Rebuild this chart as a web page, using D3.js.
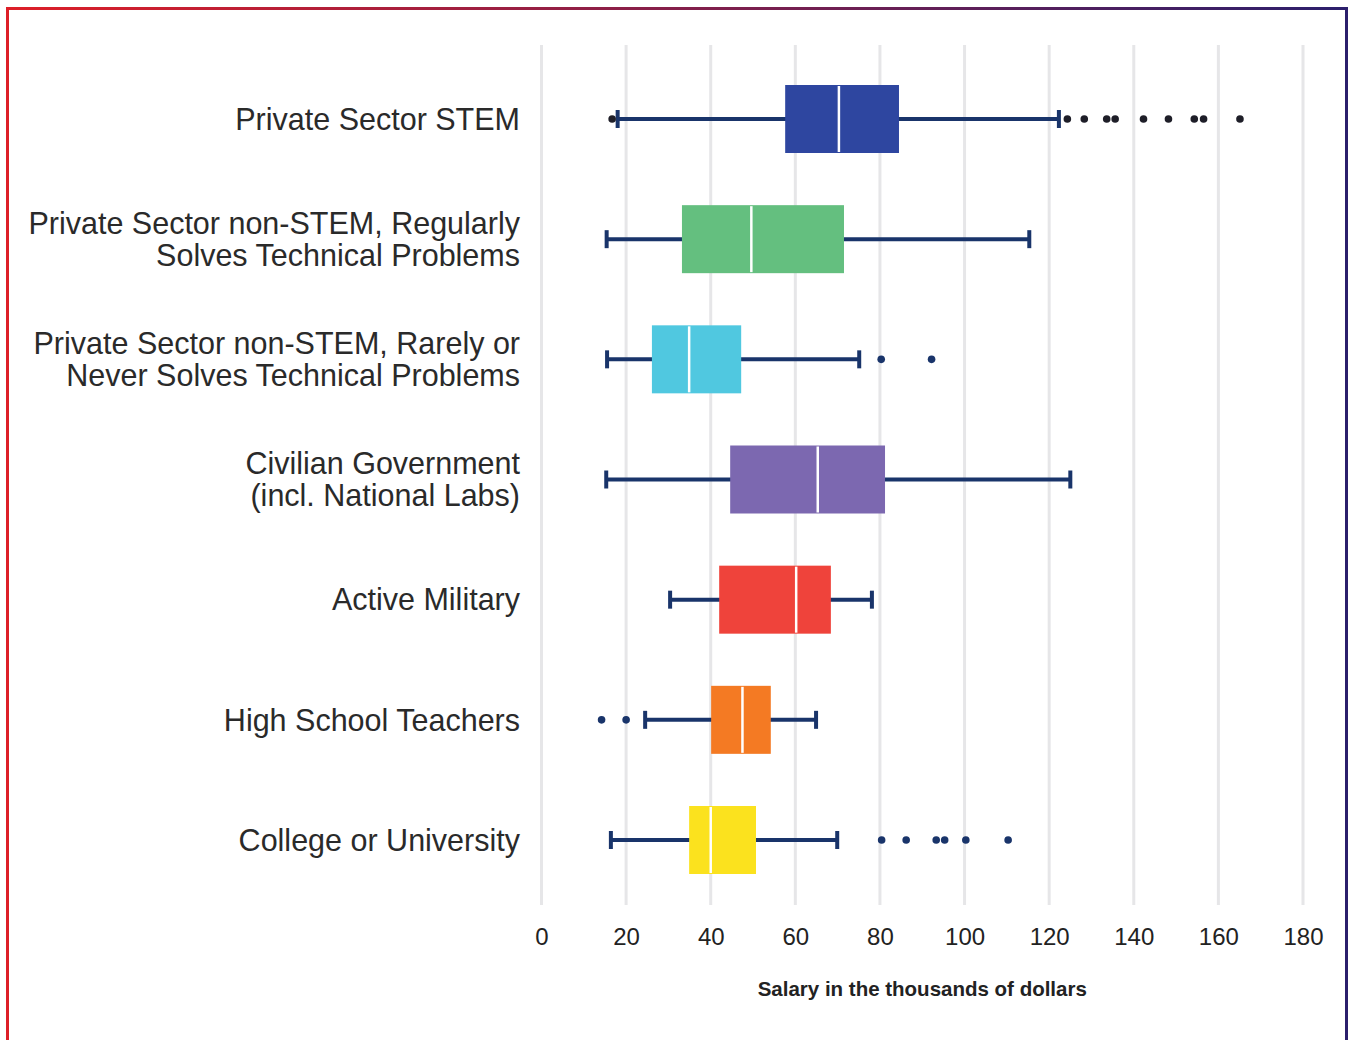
<!DOCTYPE html>
<html>
<head>
<meta charset="utf-8">
<script src="https://cdn.jsdelivr.net/npm/d3@7"></script>
<style>
  body { margin: 0; background: #fff; }
  svg { display: block; }
</style>
</head>
<body>
<div id="mainDiv"></div>
<script>
'use strict';

// categories, one line of label per array entry
var categories = [
    ['Private Sector STEM'],
    ['Private Sector non-STEM, Regularly', 'Solves Technical Problems'],
    ['Private Sector non-STEM, Rarely or', 'Never Solves Technical Problems'],
    ['Civilian Government', '(incl. National Labs)'],
    ['Active Military'],
    ['High School Teachers'],
    ['College or University']
];

var lowWhisker  = [18.0, 15.4, 15.5, 15.3, 30.4, 24.5, 16.4];
var q1          = [57.6, 33.2, 26.1, 44.6, 42.0, 40.1, 34.9];
var medians     = [70.3, 49.6, 34.9, 65.3, 60.2, 47.5, 40.0];
var q3          = [84.5, 71.5, 47.2, 81.2, 68.4, 54.2, 50.7];
var highWhisker = [122.3, 115.3, 75.1, 125.0, 78.1, 64.9, 69.9];
var outliers = [
    [16.7, 124.3, 128.3, 133.6, 135.6, 142.3, 148.2, 154.3, 156.5, 165.1],
    [],
    [80.3, 92.2],
    [],
    [],
    [14.2, 20.0],
    [80.4, 86.2, 93.3, 95.3, 100.3, 110.3]
];
var boxColors = ['#2e46a0', '#64bf7f', '#50c8e0', '#7c68b0', '#ef433b', '#f47a23', '#fbe21e'];
var xTicks = [0, 20, 40, 60, 80, 100, 120, 140, 160, 180];

var W = 1349, H = 1040;
var navy = '#19346a';
var font = 'Liberation Sans, Arial, sans-serif';

var svg = d3.select('#mainDiv').append('svg')
    .attr('width', W)
    .attr('height', H);

// frame: gradient on top, red left, navy right
var grad = svg.append('defs').append('linearGradient')
    .attr('id', 'topGrad')
    .attr('x1', '0%').attr('x2', '100%');
grad.append('stop').attr('offset', '0%').attr('stop-color', '#dd1f28');
grad.append('stop').attr('offset', '100%').attr('stop-color', '#2b1f6c');

svg.append('rect').attr('x', 6).attr('y', 7).attr('width', 1342).attr('height', 3).attr('fill', 'url(#topGrad)');
svg.append('rect').attr('x', 6).attr('y', 7).attr('width', 3).attr('height', H).attr('fill', '#dd1f28');
svg.append('rect').attr('x', 1345).attr('y', 7).attr('width', 3).attr('height', H).attr('fill', '#2b1f6c');

var xScale = d3.scaleLinear().domain([0, 180]).range([541.5, 1303]);
var yScale = d3.scalePoint()
    .domain(d3.range(categories.length))
    .range([119, 840]);

var boxH = 68;
function yc(i) { return yScale(i); }

// gridlines
svg.append('g').selectAll('line')
    .data(xTicks)
    .enter()
    .append('line')
    .attr('x1', function(d){ return xScale(d); })
    .attr('x2', function(d){ return xScale(d); })
    .attr('y1', 45)
    .attr('y2', 905)
    .attr('stroke', '#e6e6e8')
    .attr('stroke-width', 3);

// x axis labels
var xAxis = d3.axisBottom(xScale).tickValues(xTicks).tickSize(0).tickPadding(0);
var xAxisGroup = svg.append('g')
    .attr('transform', 'translate(0,928)')
    .call(xAxis);
xAxisGroup.select('.domain').remove();
xAxisGroup.selectAll('text')
    .attr('dy', '0.71em')
    .attr('font-family', font)
    .attr('font-size', 24)
    .attr('fill', '#222');

svg.append('text')
    .attr('x', xScale(90))
    .attr('y', 996)
    .attr('text-anchor', 'middle')
    .attr('font-family', font)
    .attr('font-size', 20.5)
    .attr('font-weight', 'bold')
    .attr('fill', '#222')
    .text('Salary in the thousands of dollars');

// category labels
var labels = svg.append('g').selectAll('text')
    .data(categories)
    .enter()
    .append('text')
    .attr('text-anchor', 'end')
    .attr('font-family', font)
    .attr('font-size', 30.5)
    .attr('fill', '#2a2a2a');
labels.each(function(lines, i) {
    var t = d3.select(this);
    var lh = 32;
    var top = yc(i) - (lines.length - 1) * lh / 2;
    lines.forEach(function(s, k) {
        t.append('tspan')
            .attr('x', 520)
            .attr('y', top + k * lh)
            .attr('dy', '0.35em')
            .text(s);
    });
});

var rows = svg.append('g').selectAll('g')
    .data(categories)
    .enter()
    .append('g');

// whiskers
rows.append('line')
    .attr('x1', function(d, i){ return xScale(lowWhisker[i]); })
    .attr('x2', function(d, i){ return xScale(highWhisker[i]); })
    .attr('y1', function(d, i){ return yc(i); })
    .attr('y2', function(d, i){ return yc(i); })
    .attr('stroke', navy)
    .attr('stroke-width', 4);

[lowWhisker, highWhisker].forEach(function(arr) {
    rows.append('line')
        .attr('x1', function(d, i){ return xScale(arr[i]); })
        .attr('x2', function(d, i){ return xScale(arr[i]); })
        .attr('y1', function(d, i){ return yc(i) - 9; })
        .attr('y2', function(d, i){ return yc(i) + 9; })
        .attr('stroke', navy)
        .attr('stroke-width', 4);
});

// boxes
rows.append('rect')
    .attr('x', function(d, i){ return xScale(q1[i]); })
    .attr('width', function(d, i){ return xScale(q3[i]) - xScale(q1[i]); })
    .attr('y', function(d, i){ return yc(i) - boxH / 2; })
    .attr('height', boxH)
    .attr('fill', function(d, i){ return boxColors[i]; });

// medians
rows.append('line')
    .attr('x1', function(d, i){ return xScale(medians[i]); })
    .attr('x2', function(d, i){ return xScale(medians[i]); })
    .attr('y1', function(d, i){ return yc(i) - boxH / 2 + 1; })
    .attr('y2', function(d, i){ return yc(i) + boxH / 2 - 1; })
    .attr('stroke', '#fff')
    .attr('stroke-width', 2.5);

// outliers
rows.each(function(d, i) {
    d3.select(this).selectAll('circle')
        .data(outliers[i])
        .enter()
        .append('circle')
        .attr('cx', function(v){ return xScale(v); })
        .attr('cy', yc(i))
        .attr('r', 3.8)
        .attr('fill', i === 0 ? '#1e1e28' : navy);
});
</script>
</body>
</html>
